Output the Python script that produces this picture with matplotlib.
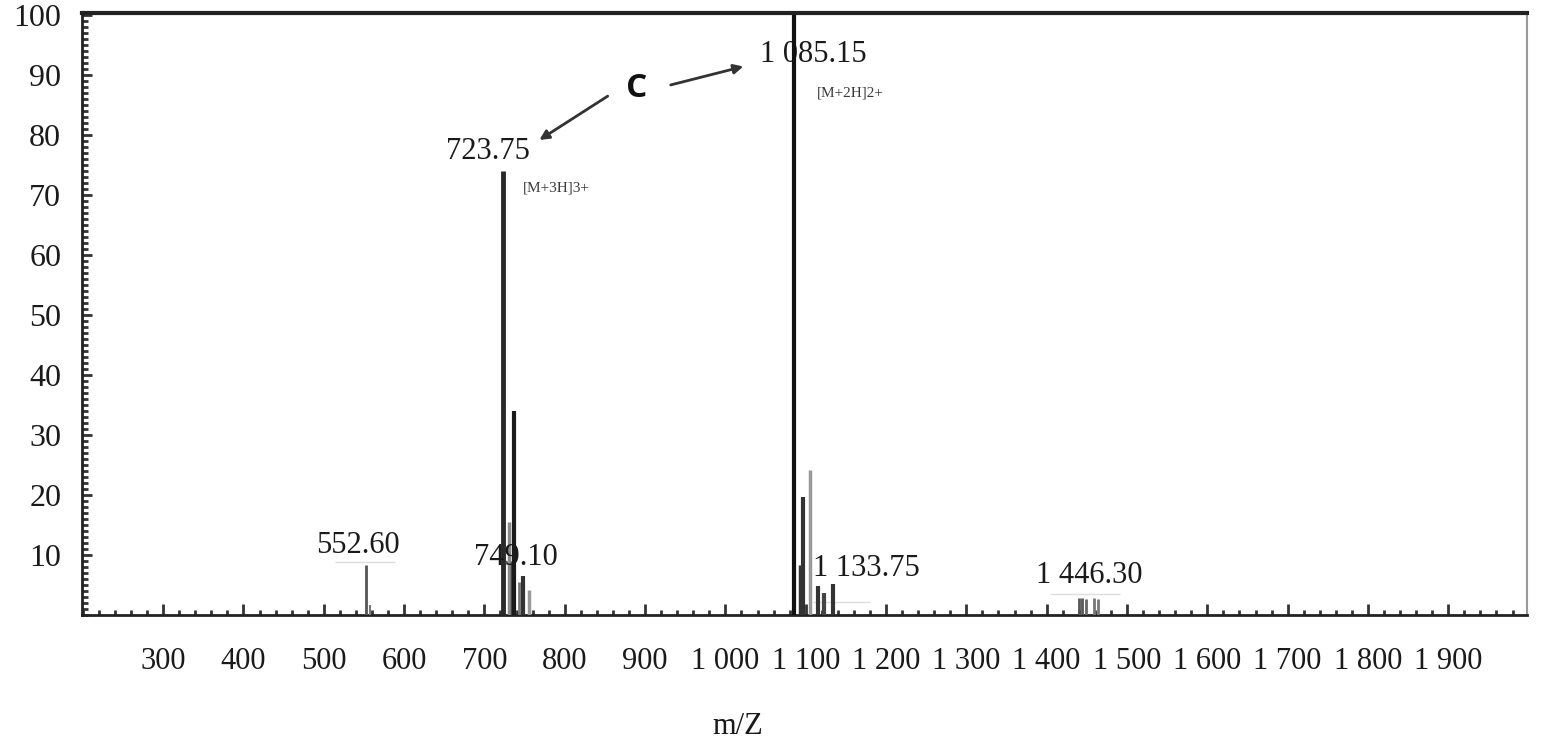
import matplotlib
matplotlib.use("Agg")
import matplotlib.pyplot as plt
from matplotlib.ticker import MultipleLocator, FixedLocator, FuncFormatter

# ---- data ----
peak_mz = [552.6, 557.5, 723.75, 731.0, 734.6, 737.0, 743.0, 748.5, 755.5,
           1085.15, 1092.4, 1096.6, 1104.8, 1115.3, 1122.2, 1133.75,
           1440.0, 1444.5, 1449.5, 1458.5, 1464.5]
peak_int = [8.3, 1.6, 74.0, 15.5, 9.0, 34.0, 5.5, 6.5, 4.2,
            100.0, 8.3, 19.7, 24.2, 4.8, 3.7, 5.2,
            2.8, 2.8, 2.7, 2.8, 2.7]
peak_col = ["#555555", "#777777", "#2a2a2a", "#8a8a8a", "#444444", "#1a1a1a", "#777777", "#333333", "#999999",
            "#111111", "#333333", "#333333", "#999999", "#333333", "#444444", "#333333",
            "#555555", "#555555", "#666666", "#777777", "#777777"]

peak_labels = ["552.60", "749.10", "1 133.75", "1 446.30"]
peak_label_mz = [542.6, 739.0, 1175.0, 1452.7]
peak_label_y = [11.6, 9.6, 7.8, 6.5]

xticks_major = list(range(300, 2000, 100))

# ---- figure ----
plt.rcParams['font.family'] = ['Liberation Serif', 'DejaVu Serif']
fig = plt.figure(figsize=(15.41, 7.41), dpi=100)
ax = fig.add_axes([82 / 1541, 1 - 615 / 741, (1527 - 82) / 1541, (615 - 13) / 741])

ax.set_xlim(199, 1998)
ax.set_ylim(0, 100.3)

widths = [2.0, 1.5, 3.5, 2.5, 2.5, 3.0, 2.0, 3.0, 2.5,
          3.0, 2.5, 3.0, 2.5, 3.0, 3.0, 3.0,
          2.0, 2.0, 2.0, 2.0, 2.0]
for m, h, c, w in zip(peak_mz, peak_int, peak_col, widths):
    ax.vlines(m, 0, h, colors=c, lw=w, zorder=3)

# faint grey baselines under some labels (scan artifacts)
for x0, x1, yy in [(514, 589, 8.8), (1109, 1180, 2.2), (1404, 1491, 3.5)]:
    ax.hlines(yy, x0, x1, colors="#dddddd", lw=1.0, zorder=1)

# spines
ax.spines['top'].set_linewidth(3.0)
ax.spines['top'].set_color('#222222')
ax.spines['left'].set_linewidth(2.0)
ax.spines['left'].set_color('#222222')
ax.spines['bottom'].set_linewidth(2.0)
ax.spines['bottom'].set_color('#222222')
ax.spines['right'].set_linewidth(1.5)
ax.spines['right'].set_color('#999999')

# ticks
ax.xaxis.set_major_locator(FixedLocator(xticks_major))
ax.xaxis.set_minor_locator(MultipleLocator(20))
ax.xaxis.set_major_formatter(FuncFormatter(
    lambda v, p: (f"{int(v)//1000} {int(v)%1000:03d}" if v >= 1000 else f"{int(v)}")))
ax.yaxis.set_major_locator(FixedLocator(list(range(10, 101, 10))))
ax.yaxis.set_minor_locator(MultipleLocator(1))
ax.tick_params(axis='x', which='major', direction='in', length=8, width=2, color='#333333',
               labelsize=22, pad=23)
ax.tick_params(axis='x', which='minor', direction='in', length=3.5, width=2, color='#333333')
ax.tick_params(axis='y', which='major', direction='in', length=7, width=2, color='#333333',
               labelsize=23, pad=15)
ax.tick_params(axis='y', which='minor', direction='in', length=4, width=2, color='#333333')
for lab in ax.get_xticklabels() + ax.get_yticklabels():
    lab.set_color('#1a1a1a')

fig.text(738 / 1541, 1 - 727 / 741, "m/Z", ha='center', va='center', fontsize=22, color='#1a1a1a')

# peak labels
ax.text(1109, 93.4, "1 085.15", ha='center', va='center', fontsize=22, color='#1a1a1a', zorder=2)
ax.text(1156, 86.9, "[M+2H]2+", ha='center', va='center', fontsize=11, color='#3a3a3a')
ax.text(704.5, 77.3, "723.75", ha='center', va='center', fontsize=22, color='#1a1a1a')
ax.text(790, 71.1, "[M+3H]3+", ha='center', va='center', fontsize=11, color='#3a3a3a')
for lbl, m, y in zip(peak_labels, peak_label_mz, peak_label_y):
    ax.text(m, y, lbl, ha='center', va='center', fontsize=22, color='#1a1a1a', zorder=4)

# "C" with arrows
ax.text(889, 87.7, "C", ha='center', va='center', fontsize=24, fontweight='bold',
        family=['Open Sans', 'DejaVu Sans'], color='#111111')
ax.annotate("", xy=(765.5, 78.9), xytext=(856.4, 86.7),
            arrowprops=dict(arrowstyle='-|>', color='#333333', lw=2, mutation_scale=14))
ax.annotate("", xy=(1025.7, 91.5), xytext=(928.6, 88.2),
            arrowprops=dict(arrowstyle='-|>', color='#333333', lw=2, mutation_scale=14))

fig.savefig("out.png", dpi=100)
